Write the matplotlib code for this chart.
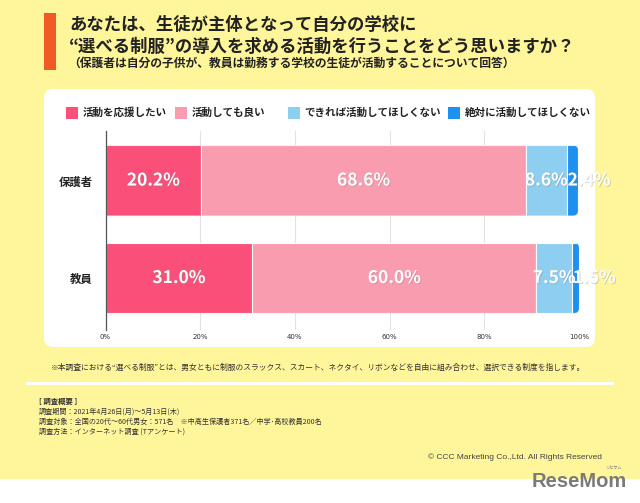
import numpy as np
import matplotlib.pyplot as plt
import matplotlib.patheffects as pe
from matplotlib.patches import FancyBboxPatch, Rectangle

plt.rcParams['font.family'] = ['Noto Sans CJK JP', 'DejaVu Sans']

# data
groups = ['保護者', '教員']
categories = ['活動を応援したい', '活動しても良い', 'できれば活動してほしくない', '絶対に活動してほしくない']
support = [20.2, 31.0]
fine = [68.6, 60.0]
rather_not = [8.6, 7.5]
never = [2.4, 1.5]
xticks = [0, 20, 40, 60, 80, 100]
xtick_labels = ['0%', '20%', '40%', '60%', '80%', '100%']

colors = ['#F94F79', '#FA9CB0', '#8DCEF1', '#1E90F0']
YELLOW = '#FFF59B'
W, H = 640, 503


def fx(x):
    return x / W


def fy(y):
    return 1 - y / H


fig = plt.figure(figsize=(6.4, 5.03), dpi=100, facecolor=YELLOW)

# white strip at the bottom
fig.add_artist(Rectangle((0, 0), 1, 24 / H, transform=fig.transFigure,
                         facecolor='white', edgecolor='none', zorder=-2))
# white rounded panel behind chart
fig.add_artist(FancyBboxPatch((fx(44), fy(347)), 551 / W, 258 / H,
                              boxstyle='round,pad=0,rounding_size=%f' % (9 / W),
                              mutation_aspect=W / H, transform=fig.transFigure,
                              facecolor='white', edgecolor='none', zorder=-1))
# orange accent bar
fig.add_artist(Rectangle((fx(44), fy(70)), 12 / W, 57 / H, transform=fig.transFigure,
                         facecolor='#F15A24', edgecolor='none'))

fig.text(fx(69), fy(25), 'あなたは、生徒が主体となって自分の学校に', fontsize=12.5,
         fontweight='bold', color='#222222', va='center')
fig.text(fx(69), fy(47), '“選べる制服”の導入を求める活動を行うことをどう思いますか？', fontsize=12.5,
         fontweight='bold', color='#222222', va='center')
fig.text(fx(68), fy(63.5), '（保護者は自分の子供が、教員は勤務する学校の生徒が活動することについて回答）',
         fontsize=8.5, fontweight='bold', color='#222222', va='center')

ax_l, ax_r, ax_t, ax_b = 105.5, 579, 131, 330
ax = fig.add_axes([fx(ax_l), fy(ax_b), (ax_r - ax_l) / W, (ax_b - ax_t) / H])
ax.set_facecolor('none')

y = np.arange(len(groups))
bar_h = 0.72
ylo, yhi = -0.508, 1.533
ax.set_xlim(0, 100)
ax.set_ylim(yhi, ylo)

shadow = [pe.withSimplePatchShadow(offset=(0.7, -0.7), shadow_rgbFace='#888888', alpha=0.35)]
series = [support, fine, rather_not, never]
left = np.zeros(len(groups))
containers = []
for k, (vals, c) in enumerate(zip(series, colors)):
    bc = ax.barh(y, vals, left=left, height=bar_h, color=c, edgecolor='white',
                 linewidth=0.8, zorder=3)
    containers.append(bc)
    last = k == len(series) - 1
    for yi, l, v in zip(y, left, vals):
        # the thin last segment gets its label starting at the segment's left edge
        ax.text(l + 0.2 if last else l + v / 2, yi, f'{v:.1f}%',
                ha='left' if last else 'center', va='center', color='white',
                fontsize=12.5, fontweight='bold', zorder=5, path_effects=shadow)
    left = left + np.array(vals)

# rounded right end of each stacked bar
px_x = (ax_r - ax_l) / 100
px_y = (ax_b - ax_t) / (yhi - ylo)
r = 5 / px_x
for i, yi in enumerate(y):
    clip = FancyBboxPatch((-5, yi - bar_h / 2), 5 + left[i], bar_h,
                          boxstyle='round,pad=0,rounding_size=%f' % r,
                          mutation_aspect=px_x / px_y, transform=ax.transData)
    for bc in containers:
        bc[i].set_clip_path(clip)

ax.set_yticks(y)
ax.set_yticklabels(groups, fontsize=8.2, fontweight='bold', color='#222222')
ax.set_xticks(xticks)
ax.set_xticklabels(xtick_labels, fontsize=5, color='#333333', family='DejaVu Sans')
ax.tick_params(axis='y', length=0, pad=9)
ax.tick_params(axis='x', length=0, pad=3)
ax.grid(axis='x', color='#E2E2E2', linewidth=0.8, zorder=0)
for s in ['top', 'right', 'bottom']:
    ax.spines[s].set_visible(False)
ax.spines['left'].set_color('#555555')
ax.spines['left'].set_linewidth(0.9)
ax.spines['left'].set_zorder(4)

# legend, placed by hand
marker_x = [66, 175, 287.5, 448]
for mx, c, lab in zip(marker_x, colors, categories):
    fig.add_artist(Rectangle((fx(mx), fy(119)), 12 / W, 12 / H, transform=fig.transFigure,
                             facecolor=c, edgecolor='none'))
    fig.text(fx(mx + 17), fy(113), lab, fontsize=7.6, fontweight='bold',
             color='#222222', va='center')

fig.text(fx(318), fy(368), '※本調査における“選べる制服”とは、男女ともに制服のスラックス、スカート、ネクタイ、リボンなどを自由に組み合わせ、選択できる制度を指します。',
         fontsize=5.6, color='#333333', ha='center', va='center')

fig.add_artist(plt.Line2D([fx(27), fx(612)], [fy(383), fy(383)], transform=fig.transFigure,
                          color='white', linewidth=2.2))

fig.text(fx(39), fy(401.5), '[ 調査概要 ]', fontsize=5.3, fontweight='bold', color='#333333', va='center')
summary = ['調査期間：2021年4月26日(月)～5月13日(木)',
           '調査対象：全国の20代～60代男女：571名　※中高生保護者371名／中学･高校教員200名',
           '調査方法：インターネット調査 (Tアンケート)']
for k, line in enumerate(summary):
    fig.text(fx(39), fy(411.7 + 10 * k), line, fontsize=5.1, color='#333333', va='center')

fig.text(fx(602), fy(457), '© CCC Marketing Co.,Ltd. All Rights Reserved', fontsize=6,
         family='Liberation Sans', color='#444444', ha='right', va='center')

fig.text(fx(627), fy(487), 'ReseMom', fontsize=14.5, fontweight='bold', family='Liberation Sans',
         color='#7A7A7A', ha='right', va='baseline')
fig.text(fx(622), fy(468), 'リセマム', fontsize=3, color='#7A7A7A', ha='right', va='center')

fig.savefig('out.png', dpi=100, facecolor=YELLOW)
